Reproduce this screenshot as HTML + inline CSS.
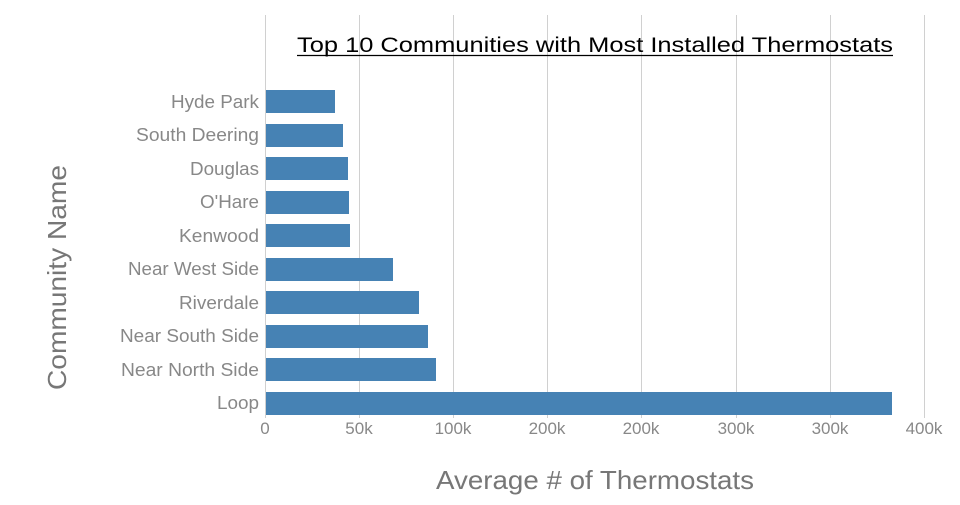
<!DOCTYPE html>
<html><head><meta charset="utf-8"><style>
body{margin:0;background:#fff;}
svg text{font-family:"Liberation Sans",sans-serif;}
</style></head><body>
<svg width="960" height="500" xmlns="http://www.w3.org/2000/svg">
<g stroke="#d0d0d0" stroke-width="1">
<line x1="265.5" y1="15" x2="265.5" y2="418"/>
<line x1="359.5" y1="15" x2="359.5" y2="418"/>
<line x1="453.5" y1="15" x2="453.5" y2="418"/>
<line x1="547.5" y1="15" x2="547.5" y2="418"/>
<line x1="641.5" y1="15" x2="641.5" y2="418"/>
<line x1="736.5" y1="15" x2="736.5" y2="418"/>
<line x1="830.5" y1="15" x2="830.5" y2="418"/>
<line x1="924.5" y1="15" x2="924.5" y2="418"/>
</g>
<g fill="#4682b4">
<rect x="266" y="90" width="69" height="23"/>
<rect x="266" y="124" width="77" height="23"/>
<rect x="266" y="157" width="82" height="23"/>
<rect x="266" y="191" width="83" height="23"/>
<rect x="266" y="224" width="84" height="23"/>
<rect x="266" y="258" width="127" height="23"/>
<rect x="266" y="291" width="153" height="23"/>
<rect x="266" y="325" width="162" height="23"/>
<rect x="266" y="358" width="170" height="23"/>
<rect x="266" y="392" width="626" height="23"/>
</g>
<g fill="#888" font-size="18" text-anchor="end">
<text x="259" y="108" textLength="88" lengthAdjust="spacingAndGlyphs">Hyde Park</text>
<text x="259" y="141" textLength="123" lengthAdjust="spacingAndGlyphs">South Deering</text>
<text x="259" y="175" textLength="69" lengthAdjust="spacingAndGlyphs">Douglas</text>
<text x="259" y="208" textLength="59" lengthAdjust="spacingAndGlyphs">O'Hare</text>
<text x="259" y="242" textLength="80" lengthAdjust="spacingAndGlyphs">Kenwood</text>
<text x="259" y="275" textLength="131" lengthAdjust="spacingAndGlyphs">Near West Side</text>
<text x="259" y="309" textLength="80" lengthAdjust="spacingAndGlyphs">Riverdale</text>
<text x="259" y="342" textLength="139" lengthAdjust="spacingAndGlyphs">Near South Side</text>
<text x="259" y="376" textLength="138" lengthAdjust="spacingAndGlyphs">Near North Side</text>
<text x="259" y="409" textLength="42" lengthAdjust="spacingAndGlyphs">Loop</text>
</g>
<g fill="#888" font-size="17" text-anchor="middle">
<text x="265" y="434">0</text>
<text x="359" y="434">50k</text>
<text x="453" y="434">100k</text>
<text x="547" y="434">200k</text>
<text x="641" y="434">200k</text>
<text x="736" y="434">300k</text>
<text x="830" y="434">300k</text>
<text x="924" y="434">400k</text>
</g>
<text x="436" y="489" fill="#777" font-size="26" textLength="318" lengthAdjust="spacingAndGlyphs">Average # of Thermostats</text>
<text transform="translate(66,390) rotate(-90)" fill="#777" font-size="26" textLength="225" lengthAdjust="spacingAndGlyphs">Community Name</text>
<text x="297" y="52" fill="#000" font-size="21" textLength="596" lengthAdjust="spacingAndGlyphs">Top 10 Communities with Most Installed Thermostats</text>
<line x1="297" y1="55.5" x2="893" y2="55.5" stroke="#000" stroke-width="1.3"/>
</svg>
</body></html>
